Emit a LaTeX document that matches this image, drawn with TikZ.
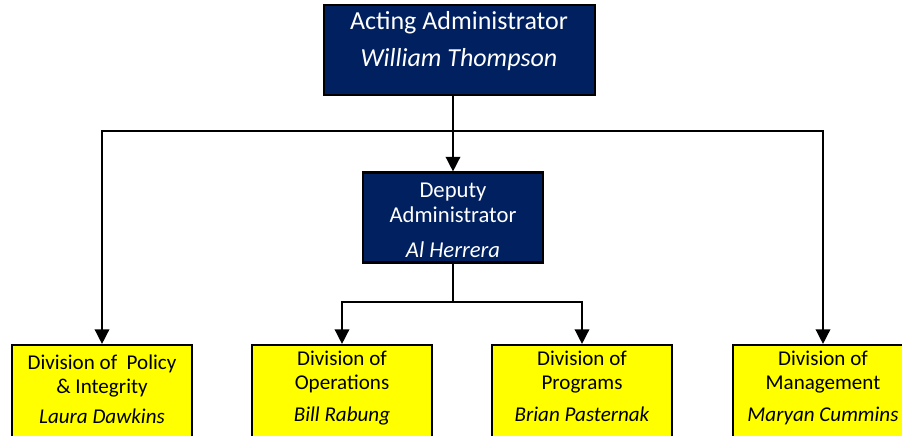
\documentclass[tikz,border=0pt]{standalone}
\usepackage{fontspec}
\setmainfont{Carlito}
\usetikzlibrary{arrows.meta}
\definecolor{navybox}{HTML}{002060}
\definecolor{yellowbox}{HTML}{FFFF00}
\begin{document}
\begin{tikzpicture}[x=0.75pt,y=-0.75pt,
  boxbase/.style={draw=black,line width=1.6pt,inner sep=0pt,minimum height=67.5pt},
  bluebox/.style={boxbase,fill=navybox},
  yelbox/.style={boxbase,fill=yellowbox,minimum width=135pt,minimum height=69pt},
  toptxt/.style={anchor=base,inner sep=0pt,text=white,font=\fontsize{19.5}{23}\selectfont},
  deptxt/.style={anchor=base,inner sep=0pt,text=white,font=\fontsize{17}{20}\selectfont},
  divtxt/.style={anchor=base,inner sep=0pt,text=black,font=\fontsize{15.8}{19}\selectfont},
  conn/.style={draw=black,line width=1.1pt},
  arr/.style={conn,-{Triangle[width=11pt,length=11pt]}}
]
\useasboundingbox (0,0) rectangle (902,435);
% boxes
\node[bluebox,minimum width=203pt] (acting) at (459.5,50) {};
\node[bluebox,minimum width=135pt] (deputy) at (453,217.5) {};
\node[yelbox] (policy) at (102,391) {};
\node[yelbox] (ops) at (342,391) {};
\node[yelbox] (prog) at (582,391) {};
\node[yelbox] (mgmt) at (823,391) {};
% texts
\node[toptxt] (t1) at (459,30) {Acting Administrator};
\node[toptxt] (t2) at (459,67) {\itshape William Thompson};
\node[deptxt] (d1) at (453,197) {Deputy};
\node[deptxt] (d2) at (453,222) {Administrator};
\node[deptxt] (d3) at (453,257) {\itshape Al Herrera};
\node[divtxt] (p1) at (102,369) {Division of\ \ Policy};
\node[divtxt] (p2) at (102,393) {\& Integrity};
\node[divtxt] (p3) at (102,423) {\itshape Laura Dawkins};
\node[divtxt] (o1) at (342,365) {Division of};
\node[divtxt] (o2) at (342,389) {Operations};
\node[divtxt] (o3) at (342,421) {\itshape Bill Rabung};
\node[divtxt] (r1) at (582,365) {Division of};
\node[divtxt] (r2) at (582,389) {Programs};
\node[divtxt] (r3) at (582,421) {\itshape Brian Pasternak};
\node[divtxt] (m1) at (823,365) {Division of};
\node[divtxt] (m2) at (823,389) {Management};
\node[divtxt] (m3) at (823,421) {\itshape Maryan Cummins};
% connectors
\coordinate (hb) at (453,131);
\coordinate (hb2) at (453,302);
\draw[arr] (acting.south -| deputy.north) -- (deputy.north);
\draw[arr] (hb) -| (policy.north);
\draw[arr] (hb) -| (mgmt.north);
\draw[conn] (deputy.south) -- (hb2);
\draw[arr] (hb2) -| (ops.north);
\draw[arr] (hb2) -| (prog.north);
\end{tikzpicture}
\end{document}
